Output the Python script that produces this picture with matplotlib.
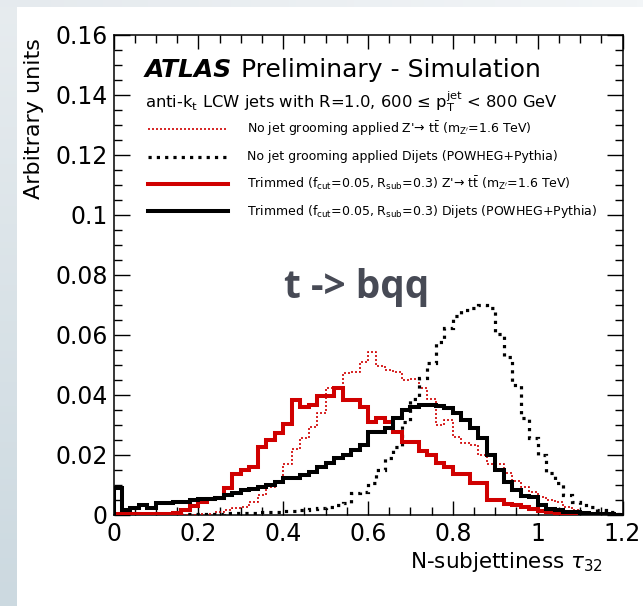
import numpy as np
import matplotlib
matplotlib.use("Agg")
import matplotlib.pyplot as plt
from matplotlib.lines import Line2D
from matplotlib.ticker import MultipleLocator, FixedLocator, FixedFormatter
from matplotlib.colors import LinearSegmentedColormap

# ---------------- data ----------------
bin_edges = np.round(np.arange(0, 1.2001, 0.02), 4)

red_nogroom = [0, 0, 0, 0, 0, 0, 0, 0, 0, 0,
               0.0002, 0.0005, 0.0010, 0.0017, 0.0025, 0.0028, 0.0043, 0.0067, 0.0092, 0.0112,
               0.0171, 0.0220, 0.0256, 0.0294, 0.0339, 0.0422, 0.0428, 0.0472, 0.0477, 0.0510,
               0.0544, 0.0497, 0.0483, 0.0477, 0.0449, 0.0455, 0.0422, 0.0388, 0.0299, 0.0316,
               0.0260, 0.0239, 0.0233, 0.0200, 0.0171, 0.0169, 0.0141, 0.0112, 0.0092, 0.0078,
               0.0061, 0.0050, 0.0045, 0.0028, 0.0017, 0.0011, 0.0005, 0.0003, 0.0002, 0.0001]

black_nogroom = [0, 0, 0, 0, 0, 0, 0.0002, 0.0003, 0.0003, 0.0004,
                 0.0004, 0.0005, 0.0005, 0.0006, 0.0006, 0.0007, 0.0008, 0.0009, 0.0010, 0.0011,
                 0.0013, 0.0015, 0.0018, 0.0020, 0.0025, 0.0028, 0.0032, 0.0040, 0.0072, 0.0078,
                 0.0106, 0.0150, 0.0190, 0.0227, 0.0310, 0.0388, 0.0457, 0.0507, 0.0576, 0.0625,
                 0.0665, 0.0684, 0.0689, 0.0700, 0.0689, 0.0605, 0.0526, 0.0434, 0.0322, 0.0256,
                 0.0200, 0.0141, 0.0106, 0.0066, 0.0045, 0.0033, 0.0026, 0.0017, 0.0011, 0.0005]

red_trim = [0.0002, 0.0002, 0.0002, 0.0002, 0.0002, 0.0002, 0.0003, 0.0008, 0.0018, 0.0031,
            0.0043, 0.0055, 0.0058, 0.0089, 0.0136, 0.0149, 0.0159, 0.0227, 0.0250, 0.0275,
            0.0305, 0.0383, 0.0361, 0.0366, 0.0396, 0.0396, 0.0422, 0.0383, 0.0383, 0.0361,
            0.0311, 0.0324, 0.0311, 0.0278, 0.0244, 0.0244, 0.0212, 0.0201, 0.0173, 0.0160,
            0.0138, 0.0138, 0.0106, 0.0106, 0.0050, 0.0050, 0.0038, 0.0033, 0.0028, 0.0021,
            0.0015, 0.0010, 0.0008, 0.0006, 0.0004, 0.0003, 0.0002, 0.0001, 0.0001, 0.0001]

black_trim = [0.0090, 0.0018, 0.0024, 0.0033, 0.0024, 0.0040, 0.0040, 0.0045, 0.0045, 0.0050,
              0.0052, 0.0055, 0.0058, 0.0067, 0.0074, 0.0082, 0.0087, 0.0094, 0.0100, 0.0111,
              0.0122, 0.0125, 0.0134, 0.0144, 0.0161, 0.0174, 0.0189, 0.0200, 0.0216, 0.0233,
              0.0278, 0.0278, 0.0290, 0.0322, 0.0350, 0.0360, 0.0366, 0.0366, 0.0363, 0.0358,
              0.0339, 0.0316, 0.0290, 0.0256, 0.0200, 0.0150, 0.0111, 0.0084, 0.0062, 0.0060,
              0.0033, 0.0021, 0.0018, 0.0011, 0.0010, 0.0008, 0.0005, 0.0003, 0.0002, 0.0001]

x_ticks = [0, 0.2, 0.4, 0.6, 0.8, 1.0, 1.2]
x_ticklabels = ["0", "0.2", "0.4", "0.6", "0.8", "1", "1.2"]
y_ticks = [0, 0.02, 0.04, 0.06, 0.08, 0.10, 0.12, 0.14, 0.16]
y_ticklabels = ["0", "0.02", "0.04", "0.06", "0.08", "0.1", "0.12", "0.14", "0.16"]

legend_labels = [
    r"No jet grooming applied Z'→ t$\bar{\mathrm{t}}$ (m$_{\mathrm{Z'}}$=1.6 TeV)",
    "No jet grooming applied Dijets (POWHEG+Pythia)",
    r"Trimmed (f$_{\mathrm{cut}}$=0.05, R$_{\mathrm{sub}}$=0.3) Z'→ t$\bar{\mathrm{t}}$ (m$_{\mathrm{Z'}}$=1.6 TeV)",
    r"Trimmed (f$_{\mathrm{cut}}$=0.05, R$_{\mathrm{sub}}$=0.3) Dijets (POWHEG+Pythia)",
]

RED = "#d00000"
W, H = 643, 606

plt.rcParams["font.family"] = ["DejaVu Sans"]
plt.rcParams["mathtext.fontset"] = "dejavusans"

fig = plt.figure(figsize=(W / 100, H / 100), dpi=100, facecolor="white")

def fx(px):
    return px / W

def fy(py):
    return 1 - py / H

# slide background strips
bl = fig.add_axes([0, 0, fx(17), 1], zorder=-5)
grad = np.linspace(0, 1, 100).reshape(-1, 1)
cm_left = LinearSegmentedColormap.from_list("l", ["#e7ecef", "#ccd9e0"])
bl.imshow(grad, aspect="auto", cmap=cm_left, extent=[0, 1, 0, 1], origin="upper")
bl.axis("off")
bt = fig.add_axes([0, fy(7), 1, 7 / H], zorder=-5)
cm_top = LinearSegmentedColormap.from_list("t", ["#e5eaee", "#f2f5f7"])
bt.imshow(np.linspace(0, 1, 100).reshape(1, -1), aspect="auto", cmap=cm_top, extent=[0, 1, 0, 1])
bt.axis("off")

# main axes
left, right, top, bottom = 113.5, 622.5, 35, 515
ax = fig.add_axes([fx(left), fy(bottom), fx(right - left), (bottom - top) / H])
ax.set_xlim(0, 1.2)
ax.set_ylim(0, 0.16)

ax.stairs(red_nogroom, bin_edges, color=RED, lw=1.2, linestyle=(0, (1.2, 1.2)), zorder=3)
ax.stairs(black_nogroom, bin_edges, color="black", lw=2.3, linestyle=(0, (1.0, 1.6)), zorder=3)
ax.stairs(red_trim, bin_edges, color=RED, lw=2.9, zorder=4)
ax.stairs(black_trim, bin_edges, color="black", lw=2.9, zorder=5)

for s in ax.spines.values():
    s.set_linewidth(1.1)

ax.xaxis.set_major_locator(FixedLocator(x_ticks))
ax.xaxis.set_major_formatter(FixedFormatter(x_ticklabels))
ax.xaxis.set_minor_locator(MultipleLocator(0.05))
ax.yaxis.set_major_locator(FixedLocator(y_ticks))
ax.yaxis.set_major_formatter(FixedFormatter(y_ticklabels))
ax.yaxis.set_minor_locator(MultipleLocator(0.005))
ax.tick_params(axis="both", which="both", direction="in", top=True, right=True,
               width=1.0, labelsize=17)
ax.tick_params(axis="x", which="major", length=10, pad=5)
ax.tick_params(axis="x", which="minor", length=5.5)
ax.tick_params(axis="y", which="major", length=11.5, pad=4)
ax.tick_params(axis="y", which="minor", length=5.8)

# axis titles (ROOT style, aligned to ends)
fig.text(fx(34), fy(38), "Arbitrary units", rotation=90, ha="center", va="top", fontsize=16)
fig.text(fx(603), fy(568), r"N-subjettiness $\tau_{32}$", ha="right", va="baseline", fontsize=15.5)

# ATLAS header
t1 = fig.text(fx(145), fy(77), "ATLAS", fontsize=18, fontweight="bold", fontstyle="italic",
              ha="left", va="baseline")
fig.canvas.draw()
bb = t1.get_window_extent()
fig.text(bb.x1 / W + fx(1), fy(77), " Preliminary - Simulation", fontsize=18,
         ha="left", va="baseline")
fig.text(fx(145), fy(108),
         r"anti-k$_{\mathrm{t}}$ LCW jets with R=1.0, 600 ≤ p$_{\mathrm{T}}^{\mathrm{jet}}$ < 800 GeV",
         fontsize=11.8, ha="left", va="baseline")

# legend
styles = [
    dict(color=RED, lw=1.2, linestyle=(0, (1.2, 1.2))),
    dict(color="black", lw=2.3, linestyle=(0, (1.0, 1.6))),
    dict(color=RED, lw=2.9),
    dict(color="black", lw=2.9),
]
line_y = [129.3, 156.7, 184, 211]
text_y = [132.5, 160, 188, 215]
for st, ly, ty, lab in zip(styles, line_y, text_y, legend_labels):
    fig.add_artist(Line2D([fx(148), fx(228)], [fy(ly), fy(ly)], transform=fig.transFigure, **st))
    fig.text(fx(247), fy(ty), lab, fontsize=9, ha="left", va="baseline")

# slide annotation
fig.text(fx(357), fy(298), "t -> bqq", fontsize=28, fontweight="bold", family="Open Sans",
         color="#474a55", ha="center", va="baseline")

fig.savefig("out.png", dpi=100, facecolor=fig.get_facecolor())
